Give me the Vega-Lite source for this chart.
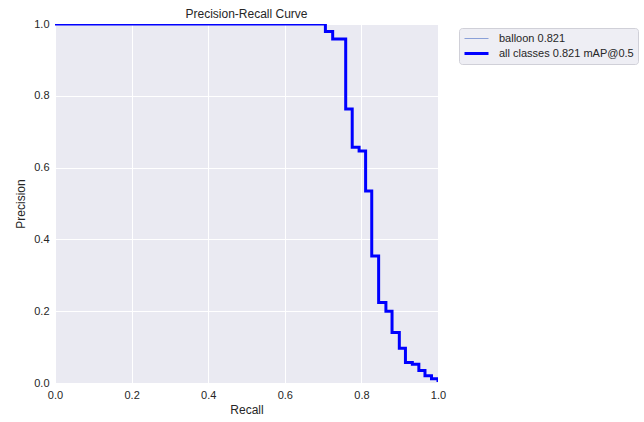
{
  "$schema": "https://vega.github.io/schema/vega-lite/v6.json",
  "width": 383,
  "height": 359,
  "autosize": {"type": "none"},
  "padding": {"left": 55, "top": 24, "right": 206, "bottom": 39},
  "background": "white",
  "title": {"text": "Precision-Recall Curve", "font": "Liberation Sans", "fontSize": 12, "fontWeight": "normal", "color": "#262626", "offset": -3},
  "config": {
    "view": {"fill": "#EAEAF2", "stroke": null},
    "axis": {"labelFont": "Liberation Sans", "titleFont": "Liberation Sans", "labelFontSize": 11, "titleFontSize": 12, "titleFontWeight": "normal", "labelColor": "#262626", "titleColor": "#262626", "domain": false, "ticks": false, "gridColor": "white", "gridWidth": 1, "gridOpacity": 1, "labelPadding": 6, "labelFlush": false}
  },
  "data": {"values": [
    {"s": "balloon 0.821", "r": 0, "p": 1},
    {"s": "balloon 0.821", "r": 0.706, "p": 0.979},
    {"s": "balloon 0.821", "r": 0.725, "p": 0.958},
    {"s": "balloon 0.821", "r": 0.759, "p": 0.763},
    {"s": "balloon 0.821", "r": 0.776, "p": 0.657},
    {"s": "balloon 0.821", "r": 0.794, "p": 0.646},
    {"s": "balloon 0.821", "r": 0.811, "p": 0.535},
    {"s": "balloon 0.821", "r": 0.827, "p": 0.354},
    {"s": "balloon 0.821", "r": 0.845, "p": 0.224},
    {"s": "balloon 0.821", "r": 0.864, "p": 0.2},
    {"s": "balloon 0.821", "r": 0.880, "p": 0.141},
    {"s": "balloon 0.821", "r": 0.899, "p": 0.097},
    {"s": "balloon 0.821", "r": 0.915, "p": 0.057},
    {"s": "balloon 0.821", "r": 0.933, "p": 0.052},
    {"s": "balloon 0.821", "r": 0.950, "p": 0.035},
    {"s": "balloon 0.821", "r": 0.966, "p": 0.02},
    {"s": "balloon 0.821", "r": 0.983, "p": 0.012},
    {"s": "balloon 0.821", "r": 1.0, "p": 0.003},
    {"s": "all classes 0.821 mAP@0.5", "r": 0, "p": 1},
    {"s": "all classes 0.821 mAP@0.5", "r": 0.706, "p": 0.979},
    {"s": "all classes 0.821 mAP@0.5", "r": 0.725, "p": 0.958},
    {"s": "all classes 0.821 mAP@0.5", "r": 0.759, "p": 0.763},
    {"s": "all classes 0.821 mAP@0.5", "r": 0.776, "p": 0.657},
    {"s": "all classes 0.821 mAP@0.5", "r": 0.794, "p": 0.646},
    {"s": "all classes 0.821 mAP@0.5", "r": 0.811, "p": 0.535},
    {"s": "all classes 0.821 mAP@0.5", "r": 0.827, "p": 0.354},
    {"s": "all classes 0.821 mAP@0.5", "r": 0.845, "p": 0.224},
    {"s": "all classes 0.821 mAP@0.5", "r": 0.864, "p": 0.2},
    {"s": "all classes 0.821 mAP@0.5", "r": 0.880, "p": 0.141},
    {"s": "all classes 0.821 mAP@0.5", "r": 0.899, "p": 0.097},
    {"s": "all classes 0.821 mAP@0.5", "r": 0.915, "p": 0.057},
    {"s": "all classes 0.821 mAP@0.5", "r": 0.933, "p": 0.052},
    {"s": "all classes 0.821 mAP@0.5", "r": 0.950, "p": 0.035},
    {"s": "all classes 0.821 mAP@0.5", "r": 0.966, "p": 0.02},
    {"s": "all classes 0.821 mAP@0.5", "r": 0.983, "p": 0.012},
    {"s": "all classes 0.821 mAP@0.5", "r": 1.0, "p": 0.003}
  ]},
  "mark": {"type": "line", "interpolate": "step-after", "clip": true, "strokeCap": "butt"},
  "encoding": {
    "x": {"field": "r", "type": "quantitative", "title": "Recall", "scale": {"domain": [0, 1], "nice": false, "zero": false}, "axis": {"values": [0, 0.2, 0.4, 0.6, 0.8, 1.0], "format": ".1f", "titlePadding": 4}},
    "y": {"field": "p", "type": "quantitative", "title": "Precision", "scale": {"domain": [0, 1], "nice": false}, "axis": {"values": [0, 0.2, 0.4, 0.6, 0.8, 1.0], "format": ".1f", "titlePadding": 6}},
    "color": {"field": "s", "type": "nominal", "scale": {"domain": ["balloon 0.821", "all classes 0.821 mAP@0.5"], "range": ["#8aa0d8", "#0000ff"]},
      "legend": {"title": null, "orient": "none", "legendX": 404, "legendY": 4, "fillColor": "#EEEEF4", "strokeColor": "#d0d0d8", "padding": 4, "cornerRadius": 3, "labelFont": "Liberation Sans", "labelFontSize": 11, "labelColor": "#262626", "symbolType": "M-1,0H3", "symbolSize": 144, "labelOffset": 21, "rowPadding": 2}},
    "strokeWidth": {"field": "s", "type": "nominal", "scale": {"domain": ["balloon 0.821", "all classes 0.821 mAP@0.5"], "range": [1, 3]}, "legend": null},
    "order": {"field": "s", "sort": "descending"}
  }
}
